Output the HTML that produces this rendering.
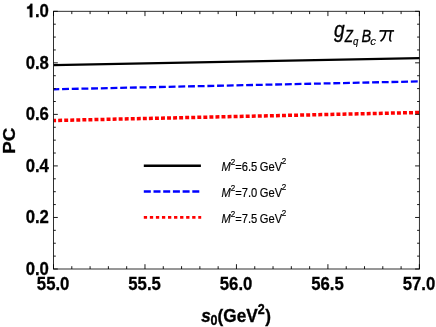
<!DOCTYPE html>
<html><head><meta charset="utf-8"><title>PC</title>
<style>
html,body{margin:0;padding:0;background:#fff;}
body{width:436px;height:327px;overflow:hidden;}
svg{display:block;will-change:transform;}
text{font-family:"Liberation Sans",sans-serif;}
</style></head><body>
<svg width="436" height="327" viewBox="0 0 436 327">
<rect x="0" y="0" width="436" height="327" fill="#ffffff"/>
<path d="M53.5 65.1 L419.8 58.1" stroke="#000" stroke-width="2.3" fill="none"/>
<path d="M53.5 89.3 L419.4 81.4" stroke="#0000ff" stroke-width="2.3" fill="none" stroke-dasharray="6.9 2.79" stroke-dashoffset="1.12"/>
<path d="M53.5 120.5 L419.4 112.5" stroke="#ff0000" stroke-width="3.5" fill="none" stroke-dasharray="3.95 2.101" stroke-dashoffset="1.38"/>
<rect x="53.5" y="11.3" width="365.90" height="257.70" fill="none" stroke="#1a1a1a" stroke-width="0.9"/>
<path d="M53.50 269.0 v-4.8 M53.50 11.3 v4.8 M71.80 269.0 v-2.8 M71.80 11.3 v2.8 M90.09 269.0 v-2.8 M90.09 11.3 v2.8 M108.38 269.0 v-2.8 M108.38 11.3 v2.8 M126.68 269.0 v-2.8 M126.68 11.3 v2.8 M144.97 269.0 v-4.8 M144.97 11.3 v4.8 M163.27 269.0 v-2.8 M163.27 11.3 v2.8 M181.57 269.0 v-2.8 M181.57 11.3 v2.8 M199.86 269.0 v-2.8 M199.86 11.3 v2.8 M218.15 269.0 v-2.8 M218.15 11.3 v2.8 M236.45 269.0 v-4.8 M236.45 11.3 v4.8 M254.75 269.0 v-2.8 M254.75 11.3 v2.8 M273.04 269.0 v-2.8 M273.04 11.3 v2.8 M291.33 269.0 v-2.8 M291.33 11.3 v2.8 M309.63 269.0 v-2.8 M309.63 11.3 v2.8 M327.92 269.0 v-4.8 M327.92 11.3 v4.8 M346.22 269.0 v-2.8 M346.22 11.3 v2.8 M364.52 269.0 v-2.8 M364.52 11.3 v2.8 M382.81 269.0 v-2.8 M382.81 11.3 v2.8 M401.10 269.0 v-2.8 M401.10 11.3 v2.8 M419.40 269.0 v-4.8 M419.40 11.3 v4.8 M53.5 269.00 h4.3 M419.4 269.00 h-4.3 M53.5 256.12 h2.3 M419.4 256.12 h-2.3 M53.5 243.23 h2.3 M419.4 243.23 h-2.3 M53.5 230.34 h2.3 M419.4 230.34 h-2.3 M53.5 217.46 h4.3 M419.4 217.46 h-4.3 M53.5 204.57 h2.3 M419.4 204.57 h-2.3 M53.5 191.69 h2.3 M419.4 191.69 h-2.3 M53.5 178.81 h2.3 M419.4 178.81 h-2.3 M53.5 165.92 h4.3 M419.4 165.92 h-4.3 M53.5 153.03 h2.3 M419.4 153.03 h-2.3 M53.5 140.15 h2.3 M419.4 140.15 h-2.3 M53.5 127.26 h2.3 M419.4 127.26 h-2.3 M53.5 114.38 h4.3 M419.4 114.38 h-4.3 M53.5 101.50 h2.3 M419.4 101.50 h-2.3 M53.5 88.61 h2.3 M419.4 88.61 h-2.3 M53.5 75.73 h2.3 M419.4 75.73 h-2.3 M53.5 62.84 h4.3 M419.4 62.84 h-4.3 M53.5 49.95 h2.3 M419.4 49.95 h-2.3 M53.5 37.07 h2.3 M419.4 37.07 h-2.3 M53.5 24.19 h2.3 M419.4 24.19 h-2.3 M53.5 11.30 h4.3 M419.4 11.30 h-4.3" stroke="#000" stroke-width="0.9" fill="none"/>
<g font-weight="bold" font-size="18.8px" fill="#000" stroke="#000" stroke-width="0.3">
<text transform="translate(48.9 274.90) scale(0.89 1)" text-anchor="end">0.0</text>
<text transform="translate(48.9 223.36) scale(0.89 1)" text-anchor="end">0.2</text>
<text transform="translate(48.9 171.82) scale(0.89 1)" text-anchor="end">0.4</text>
<text transform="translate(48.9 120.28) scale(0.89 1)" text-anchor="end">0.6</text>
<text transform="translate(48.9 68.74) scale(0.89 1)" text-anchor="end">0.8</text>
<path d="M29.78 17.20L32.34 17.20L32.34 3.81L30.49 3.81C30.08 5.54 28.82 6.58 27.15 6.77L27.15 8.83L29.78 8.83Z"/>
<text transform="translate(48.9 17.20) scale(0.89 1)" text-anchor="end">.0</text>
<text transform="translate(53.10 290.0) scale(0.89 1)" text-anchor="middle">55.0</text>
<text transform="translate(144.57 290.0) scale(0.89 1)" text-anchor="middle">55.5</text>
<text transform="translate(236.05 290.0) scale(0.89 1)" text-anchor="middle">56.0</text>
<text transform="translate(327.52 290.0) scale(0.89 1)" text-anchor="middle">56.5</text>
<text transform="translate(419.00 290.0) scale(0.89 1)" text-anchor="middle">57.0</text>
</g>
<text transform="translate(14.6 140.8) rotate(-90) scale(1.115 1)" text-anchor="middle" font-weight="bold" font-size="16.8px" stroke="#000" stroke-width="0.3">PC</text>
<text transform="translate(201.3 322.3) scale(0.90 1)" font-weight="bold" font-size="19.1px" stroke="#000" stroke-width="0.35"><tspan font-style="italic">s</tspan><tspan font-size="13.9px" dy="2.9" dx="-0.3">0</tspan><tspan dy="-2.9">(GeV</tspan><tspan font-size="13.9px" dy="-8.8">2</tspan><tspan dy="8.8" dx="0.8">)</tspan></text>
<path d="M143.8 165.7 H200.9" stroke="#000" stroke-width="2.4" fill="none"/>
<path d="M143.8 191.5 H200.9" stroke="#0000ff" stroke-width="2.6" fill="none" stroke-dasharray="7 2.7"/>
<path d="M143.8 217.4 H201.2" stroke="#ff0000" stroke-width="2.9" fill="none" stroke-dasharray="3.3 2.75"/>
<text transform="translate(221.4 171.3) scale(0.86 1)" font-size="13px" fill="#000" stroke="#000" stroke-width="0.18"><tspan font-style="italic">M</tspan><tspan font-size="9.4px" dy="-6.7">2</tspan><tspan dy="6.7">=6.5</tspan><tspan dx="-0.7"> GeV</tspan><tspan font-size="9.4px" dy="-7.2" dx="-0.5">2</tspan></text>
<text transform="translate(221.4 197.4) scale(0.86 1)" font-size="13px" fill="#000" stroke="#000" stroke-width="0.18"><tspan font-style="italic">M</tspan><tspan font-size="9.4px" dy="-6.7">2</tspan><tspan dy="6.7">=7.0</tspan><tspan dx="-0.7"> GeV</tspan><tspan font-size="9.4px" dy="-7.2" dx="-0.5">2</tspan></text>
<text transform="translate(221.4 223.2) scale(0.86 1)" font-size="13px" fill="#000" stroke="#000" stroke-width="0.18"><tspan font-style="italic">M</tspan><tspan font-size="9.4px" dy="-6.7">2</tspan><tspan dy="6.7">=7.5</tspan><tspan dx="-0.7"> GeV</tspan><tspan font-size="9.4px" dy="-7.2" dx="-0.5">2</tspan></text>
<g font-style="italic" fill="#000">
<text transform="translate(333.9 37.3) scale(0.90 1)" font-size="21.3px" stroke="#000" stroke-width="0.35">g</text>
<text transform="translate(344.8 41.85) scale(0.83 1)" font-size="16.1px" stroke="#000" stroke-width="0.3">Z</text>
<text transform="translate(352.9 44.9) scale(0.82 1)" font-size="11.8px" stroke="#000" stroke-width="0.2">q</text>
<text transform="translate(361.4 41.85) scale(0.90 1)" font-size="16.1px" stroke="#000" stroke-width="0.3">B</text>
<text transform="translate(370.15 44.9) scale(1.05 1)" font-size="11.2px" stroke="#000" stroke-width="0.1">c</text>
<g fill="none" stroke="#000" stroke-width="1.65"><path d="M379.7 30.9 H394.1"/><path d="M385.7 31.2 C385.2 35.2 383.9 39.2 380.5 41.3"/><path d="M390.9 31.2 C390.4 34.8 389.4 38.6 390.0 40.2 Q390.4 41.2 391.5 41.0"/><path d="M380.1 30.5 L379.9 32.1" stroke-width="0.8"/></g>
</g>
</svg>
</body></html>
